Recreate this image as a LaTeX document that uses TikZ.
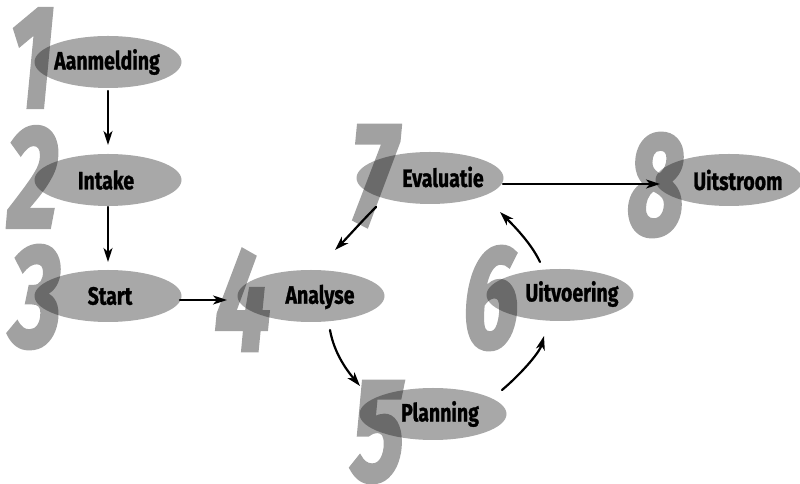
\documentclass[tikz,border=0pt]{standalone}
\usepackage{fontspec}
\setmainfont{Fira Sans}[BoldFont={* Bold},BoldFeatures={FakeBold=1.2}]
\newfontfamily\digitfont{Fira Sans}[UprightFont={* Bold Italic},FakeBold=2.5]
\usetikzlibrary{shapes.geometric,arrows.meta,calc}
\tikzset{
  stepell/.style={ellipse,fill=black!34,draw=none,minimum width=147pt,minimum height=52pt,inner sep=0pt},
  steptext/.style={font=\bfseries\fontsize{25}{25}\selectfont,text=black,inner sep=0pt},
  bignum/.style={font=\digitfont\fontsize{146}{146}\selectfont,text=black,inner sep=0pt},
  arr/.style={-{Stealth[length=14pt,width=9pt,inset=4pt]},line width=2.2pt,black,line cap=round}
}
\newcommand{\cond}[1]{\scalebox{0.78}[1]{#1}}
\newcommand{\narrowdig}[1]{\scalebox{0.68}[1]{#1}}
\begin{document}
\begin{tikzpicture}[x=1pt,y=1pt]
\useasboundingbox (0,0) rectangle (800,484);
% ellipses
\node[stepell] (aan) at (108,422) {};
\node[stepell] (int) at (108,304) {};
\node[stepell] (sta) at (108,188) {};
\node[stepell] (ana) at (311,188) {};
\node[stepell] (eva) at (430,306) {};
\node[stepell] (uit) at (729,304) {};
\node[stepell] (uvo) at (560,189) {};
\node[stepell] (pla) at (433,70) {};
% big digits
\begin{scope}[transparency group,opacity=0.37]
\node[bignum] (d1) at (32,426) {\narrowdig{1}};
\node[bignum] (d2) at (33,307) {\narrowdig{2}};
\node[bignum] (d3) at (36,187) {\narrowdig{3}};
\node[bignum] (d4) at (243,184) {\narrowdig{4}};
\node[bignum] (d5) at (378,52) {\narrowdig{5}};
\node[bignum] (d6) at (491,186) {\narrowdig{6}};
\node[bignum] (d7) at (374,308) {\narrowdig{7}};
\node[bignum] (d8) at (656,299) {\narrowdig{8}};
\end{scope}
% texts
\node[steptext] (aan-t) at (107,422) {\cond{Aanmelding}};
\node[steptext] (int-t) at (106,304) {\cond{Intake}};
\node[steptext] (sta-t) at (110,188) {\cond{Start}};
\node[steptext] (ana-t) at (320,187) {\cond{Analyse}};
\node[steptext] (eva-t) at (443,307) {\cond{Evaluatie}};
\node[steptext] (uit-t) at (738,304) {\cond{Uitstroom}};
\node[steptext] (uvo-t) at (572,190) {\cond{Uitvoering}};
\node[steptext] (pla-t) at (440,70) {\cond{Planning}};
% connectors
\draw[arr] ($(aan)+(0,-29)$) -- ($(int)+(0,35)$);
\draw[arr] ($(int)+(0,-27)$) -- ($(sta)+(0,34)$);
\draw[arr] ($(sta)+(72,-4)$) -- ($(ana)+(-84,-4)$);
\draw[arr] ($(ana)+(19,-34)$) .. controls +(-80:25) and +(130:18) .. ($(pla)+(-73,28)$);
\draw[arr] ($(pla)+(69,24)$) .. controls +(40:22) and +(-105:18) .. ($(uvo)+(-16,-41)$);
\draw[arr] ($(uvo)+(-20,33)$) .. controls +(115:22) and +(-45:15) .. ($(eva)+(70,-34)$);
\draw[arr] ($(eva)+(-54,-29)$) .. controls +(-135:20) and +(45:15) .. ($(ana)+(24,46)$);
\draw[arr] ($(eva)+(73,-6)$) -- ($(uit)+(-69,-4)$);
\end{tikzpicture}
\end{document}
